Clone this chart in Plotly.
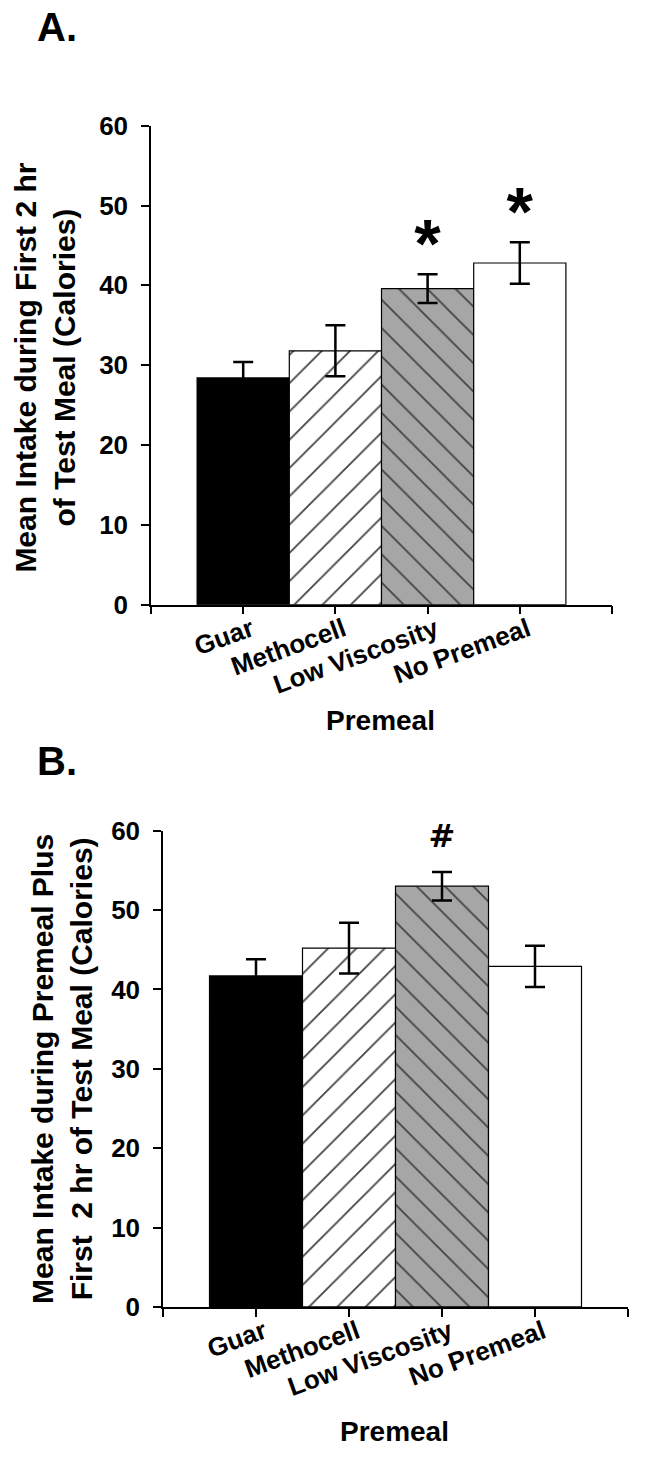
import plotly.graph_objects as go

W, H = 654, 1464

categories = ["Guar", "Methocell", "Low Viscosity", "No Premeal"]
a_means = [28.4, 31.8, 39.6, 42.8]
a_sem = [2.0, 3.2, 1.8, 2.6]
a_marks = ["", "", "*", "*"]
b_means = [41.7, 45.2, 53.0, 42.9]
b_sem = [2.1, 3.2, 1.8, 2.6]
b_marks = ["", "", "#", ""]
y_ticks = [0, 10, 20, 30, 40, 50, 60]

fills = ["black", "white", "#a6a6a6", "white"]
shapes = ["", "/", "\\", ""]
FONT = "Liberation Sans, Arial, sans-serif"

xpos = list(range(1, len(categories) + 1))


def px_x(p):
    return p / W


def px_y(p):
    return 1 - p / H


fig = go.Figure()


def add_panel(means, sem, marks, xa, ya, offset, msize, mfont):
    fig.add_trace(go.Bar(
        x=xpos, y=means, width=1,
        marker=dict(color=fills, line=dict(color="black", width=1.2),
                    pattern=dict(shape=shapes, fgcolor="black", fgopacity=1,
                                 size=20, solidity=0.09, fillmode="overlay")),
        error_y=dict(type="data", array=sem, visible=True, color="black",
                     thickness=2.5, width=10),
        xaxis=xa, yaxis=ya, showlegend=False, hoverinfo="skip"))
    ys = [m + e + offset if t else None for m, e, t in zip(means, sem, marks)]
    fig.add_trace(go.Scatter(
        x=xpos, y=ys, text=["<b>%s</b>" % t for t in marks], mode="text",
        textposition="middle center",
        textfont=dict(size=msize, color="black", family=mfont, weight="bold"),
        cliponaxis=False, xaxis=xa, yaxis=ya, showlegend=False, hoverinfo="skip"))


add_panel(a_means, a_sem, a_marks, "x", "y", 3.0, 68, FONT)
add_panel(b_means, b_sem, b_marks, "x2", "y2", 4.2, 32, "DejaVu Sans, sans-serif")

xcommon = dict(range=[0, 5], tickvals=[0] + xpos + [5], ticktext=[""] + categories + [""],
               tickangle=-20, ticks="outside", ticklen=8, tickwidth=1.5, tickcolor="black",
               showline=True, linecolor="black", linewidth=1.5, showgrid=False, zeroline=False,
               ticklabelstandoff=-10, ticklabelshift=8,
               tickfont=dict(size=26, color="black", family=FONT, weight="bold"))
ycommon = dict(range=[0, 60], tickvals=y_ticks, ticks="outside", ticklen=8, tickwidth=1.5,
               tickcolor="black", showline=True, linecolor="black", linewidth=1.5,
               showgrid=False, zeroline=False, ticklabelstandoff=8,
               tickfont=dict(size=26, color="black", family=FONT, weight="bold"))

fig.update_layout(
    width=W, height=H, margin=dict(l=0, r=0, t=0, b=0),
    paper_bgcolor="white", plot_bgcolor="white", showlegend=False,
    xaxis=dict(domain=[px_x(151), px_x(612)], anchor="y", **xcommon),
    yaxis=dict(domain=[px_y(602), px_y(113)], anchor="x", **ycommon),
    xaxis2=dict(domain=[px_x(163), px_x(628)], anchor="y2", **xcommon),
    yaxis2=dict(domain=[px_y(1319), px_y(832.7)], anchor="x2", **ycommon),
)

tf = dict(color="black", family=FONT, weight="bold")
ann = [
    dict(text="A.", x=px_x(35), y=px_y(12), xanchor="left", yanchor="middle", font=dict(size=40, **tf)),
    dict(text="B.", x=px_x(35), y=px_y(762), xanchor="left", yanchor="middle", font=dict(size=40, **tf)),
    dict(text="Mean Intake during First 2 hr<br>of Test Meal (Calories)", x=px_x(45), y=px_y(360),
         xanchor="center", yanchor="middle", textangle=-90, font=dict(size=30, **tf)),
    dict(text="Mean Intake during Premeal Plus<br>First  2 hr of Test Meal (Calories)", x=px_x(62), y=px_y(1076),
         xanchor="center", yanchor="middle", textangle=-90, font=dict(size=30, **tf)),
    dict(text="Premeal", x=px_x(381), y=px_y(720), xanchor="center", yanchor="middle", font=dict(size=28, **tf)),
    dict(text="Premeal", x=px_x(394), y=px_y(1446), xanchor="center", yanchor="middle", font=dict(size=28, **tf)),
]
for a in ann:
    a.update(xref="paper", yref="paper", showarrow=False)
fig.update_layout(annotations=ann)

fig.write_html("out.html")
